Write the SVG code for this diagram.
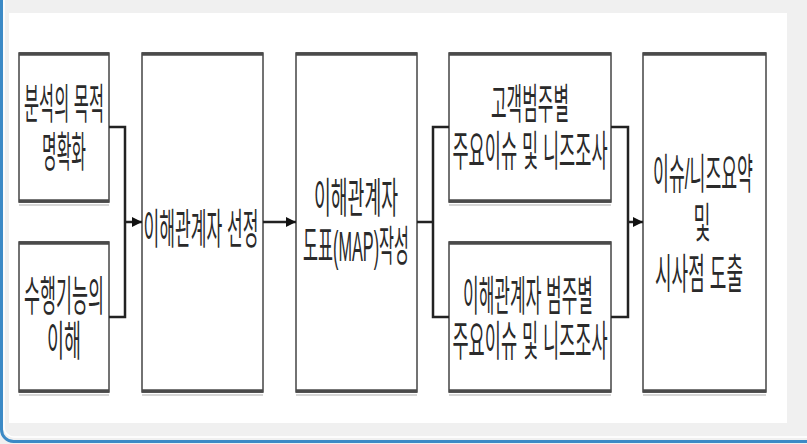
<svg xmlns="http://www.w3.org/2000/svg" width="807" height="444" viewBox="0 0 807 444">
<defs>
<style>
.box{fill:#fff;stroke:#444;stroke-width:1.5}
.edge{stroke:#4a4a4a;stroke-width:3.5;stroke-linecap:butt}
.shadow{stroke:#bbb;stroke-width:2;opacity:0.6}
.t{font-family:"Liberation Sans","Noto Sans CJK KR",sans-serif;font-size:42px;fill:#2a2a2a;text-anchor:middle}
.c{fill:none;stroke:#222;stroke-width:2.5}
</style>
<marker id="ah" markerUnits="userSpaceOnUse" markerWidth="10" markerHeight="10" refX="10" refY="5" orient="auto" viewBox="0 0 10 10">
<path d="M0,0 L10,5 L0,10 z" fill="#111"/>
</marker>
</defs>
<rect x="0" y="0" width="807" height="444" fill="#f0f0f0"/>
<rect x="1.5" y="-30" width="840" height="471.5" rx="12" fill="#f0f0f0" stroke="#3c8ac6" stroke-width="3"/>
<rect x="4" y="-30" width="840" height="467" rx="10" fill="none" stroke="#ffffff" stroke-width="1.5"/>
<rect x="9" y="13" width="778" height="410" fill="#ffffff"/>

<g id="n1">
<rect class="box" x="19" y="53" width="90" height="149"/>
<line class="shadow" x1="19" y1="205" x2="109" y2="205"/>
<line class="edge" x1="19" y1="54" x2="109" y2="54"/>
<line class="edge" x1="19" y1="201" x2="109" y2="201"/>
<text class="t" transform="translate(64,119) scale(0.379,1)" textLength="211" lengthAdjust="spacingAndGlyphs">분석의 목적</text>
<text class="t" transform="translate(64,167) scale(0.367,1)" textLength="120" lengthAdjust="spacingAndGlyphs">명확화</text>
</g>
<g id="n2">
<rect class="box" x="19" y="242" width="90" height="150"/>
<line class="shadow" x1="19" y1="395" x2="109" y2="395"/>
<line class="edge" x1="19" y1="243" x2="109" y2="243"/>
<line class="edge" x1="19" y1="391" x2="109" y2="391"/>
<text class="t" transform="translate(64,311) scale(0.4,1)" textLength="200" lengthAdjust="spacingAndGlyphs">수행기능의</text>
<text class="t" transform="translate(64,356) scale(0.425,1)" textLength="80" lengthAdjust="spacingAndGlyphs">이해</text>
</g>
<g id="n3">
<rect class="box" x="142" y="53" width="121" height="339"/>
<line class="shadow" x1="142" y1="395" x2="263" y2="395"/>
<line class="edge" x1="142" y1="54" x2="263" y2="54"/>
<line class="edge" x1="142" y1="391" x2="263" y2="391"/>
<text class="t" transform="translate(201,244) scale(0.395,1)" textLength="291" lengthAdjust="spacingAndGlyphs">이해관계자 선정</text>
</g>
<g id="n4">
<rect class="box" x="296" y="53" width="121" height="339"/>
<line class="shadow" x1="296" y1="395" x2="417" y2="395"/>
<line class="edge" x1="296" y1="54" x2="417" y2="54"/>
<line class="edge" x1="296" y1="391" x2="417" y2="391"/>
<text class="t" transform="translate(356,213) scale(0.42,1)" textLength="200" lengthAdjust="spacingAndGlyphs">이해관계자</text>
<text class="t" transform="translate(356,261) scale(0.388,1)" textLength="273" lengthAdjust="spacingAndGlyphs">도표(MAP)작성</text>
</g>
<g id="n5">
<rect class="box" x="449" y="53" width="162" height="149"/>
<line class="shadow" x1="449" y1="205" x2="611" y2="205"/>
<line class="edge" x1="449" y1="54" x2="611" y2="54"/>
<line class="edge" x1="449" y1="201" x2="611" y2="201"/>
<text class="t" transform="translate(530,119) scale(0.39,1)" textLength="200" lengthAdjust="spacingAndGlyphs">고객범주별</text>
<text class="t" transform="translate(530,166) scale(0.406,1)" textLength="382" lengthAdjust="spacingAndGlyphs">주요이슈 및 니즈조사</text>
</g>
<g id="n6">
<rect class="box" x="449" y="242" width="162" height="150"/>
<line class="shadow" x1="449" y1="395" x2="611" y2="395"/>
<line class="edge" x1="449" y1="243" x2="611" y2="243"/>
<line class="edge" x1="449" y1="391" x2="611" y2="391"/>
<text class="t" transform="translate(528,311) scale(0.393,1)" textLength="331" lengthAdjust="spacingAndGlyphs">이해관계자 범주별</text>
<text class="t" transform="translate(530,356) scale(0.406,1)" textLength="382" lengthAdjust="spacingAndGlyphs">주요이슈 및 니즈조사</text>
</g>
<g id="n7">
<rect class="box" x="643" y="53" width="123" height="339"/>
<line class="shadow" x1="643" y1="395" x2="766" y2="395"/>
<line class="edge" x1="643" y1="54" x2="766" y2="54"/>
<line class="edge" x1="643" y1="391" x2="766" y2="391"/>
<text class="t" transform="translate(703,189) scale(0.398,1)" textLength="251" lengthAdjust="spacingAndGlyphs">이슈/니즈요약</text>
<text class="t" transform="translate(702,238) scale(0.425,1)" textLength="40" lengthAdjust="spacingAndGlyphs">및</text>
<text class="t" transform="translate(699,289) scale(0.417,1)" textLength="211" lengthAdjust="spacingAndGlyphs">시사점 도출</text>
</g>

<g id="connectors">
<polyline class="c" points="109,127 125,127 125,317 109,317"/>
<line class="c" x1="125" y1="222" x2="142" y2="222" marker-end="url(#ah)"/>
<line class="c" x1="263" y1="222" x2="296" y2="222" marker-end="url(#ah)"/>
<line class="c" x1="417" y1="222" x2="433" y2="222"/>
<polyline class="c" points="449,127 433,127 433,317 449,317"/>
<polyline class="c" points="611,127 628,127 628,317 611,317"/>
<line class="c" x1="628" y1="222" x2="643" y2="222" marker-end="url(#ah)"/>
</g>
</svg>
